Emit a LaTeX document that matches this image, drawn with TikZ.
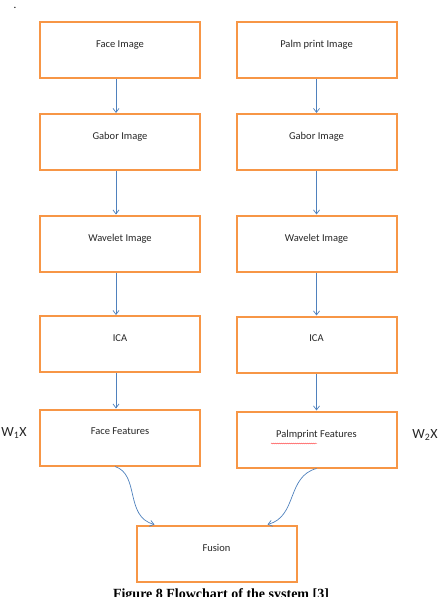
\documentclass[tikz,border=0pt]{standalone}
\usepackage{fontspec}
\setmainfont{Carlito}
\newfontfamily\capfont{Liberation Serif}
\usetikzlibrary{arrows.meta,decorations.pathmorphing}
\definecolor{boxorange}{HTML}{F79646}
\definecolor{arrowblue}{HTML}{4F81BD}
\tikzset{
  x=1pt,y=-1pt,
  stepbox/.style={draw=boxorange,line width=2pt,minimum width=160pt,minimum height=56pt,inner sep=0pt,text depth=12pt,font=\fontsize{10.5}{12}\selectfont,text=black!85},
  flow/.style={draw=arrowblue,line width=0.7pt,-{Straight Barb[length=4pt,width=6pt]}},
  wlabel/.style={font=\fontsize{14}{16}\selectfont,text=black!85,inner sep=0pt}
}
\begin{document}
\begin{tikzpicture}
\useasboundingbox (0,0) rectangle (439,597);
\node[inner sep=0pt,font=\fontsize{11}{12}\selectfont] (dot) at (15,8) {.};
% left column
\node[stepbox] (fi) at (120,50) {Face Image};
\node[stepbox] (gl) at (120,142) {Gabor Image};
\node[stepbox] (wl) at (120,243.5) {Wavelet Image};
\node[stepbox] (il) at (120,344) {ICA};
\node[stepbox] (ffl) at (120,437.5) {Face Features};
% right column
\node[stepbox] (pi) at (316.5,50) {Palm print Image};
\node[stepbox] (gr) at (316.5,142) {Gabor Image};
\node[stepbox] (wr) at (316.5,243.5) {Wavelet Image};
\node[stepbox] (ir) at (316.5,344.5) {ICA};
\node[stepbox] (ffr) at (316.5,439.5) {Palmprint Features};
% fusion
\node[stepbox] (fu) at (216.5,553.5) {Fusion};
% vertical arrows
\draw[flow] ([xshift=-4pt]fi.south) -- ([xshift=-4pt]gl.north);
\draw[flow] ([xshift=-4pt]gl.south) -- ([xshift=-4pt]wl.north);
\draw[flow] ([xshift=-4pt]wl.south) -- ([xshift=-4pt]il.north);
\draw[flow] ([xshift=-4pt]il.south) -- ([xshift=-4pt]ffl.north);
\draw[flow] (pi.south) -- (gr.north);
\draw[flow] (gr.south) -- (wr.north);
\draw[flow] (wr.south) -- (ir.north);
\draw[flow] (ir.south) -- (ffr.north);
% curved arrows
\coordinate (fuL) at ([xshift=19pt]fu.north west);
\coordinate (fuR) at ([xshift=-30pt]fu.north east);
\draw[flow] ([xshift=-5pt]ffl.south) .. controls +(25,8) and +(-30,-8) .. (fuL);
\draw[flow] (ffr.south) .. controls +(-30,8) and +(30,-8) .. (fuR);
% spell-check squiggle
\draw[red!80,line width=0.3pt,decorate,decoration={snake,amplitude=0.5pt,segment length=2pt}] (271,443.5) -- (317,443.5);
% weights
\node[wlabel] (w1) at (14,433) {W\textsubscript{1}X};
\node[wlabel] (w2) at (425,435) {W\textsubscript{2}X};
% caption
\node[font=\capfont\bfseries\fontsize{14}{16}\selectfont,anchor=base,inner sep=0pt] (cap) at (221,598) {Figure 8 Flowchart of the system [3]};
\end{tikzpicture}
\end{document}
